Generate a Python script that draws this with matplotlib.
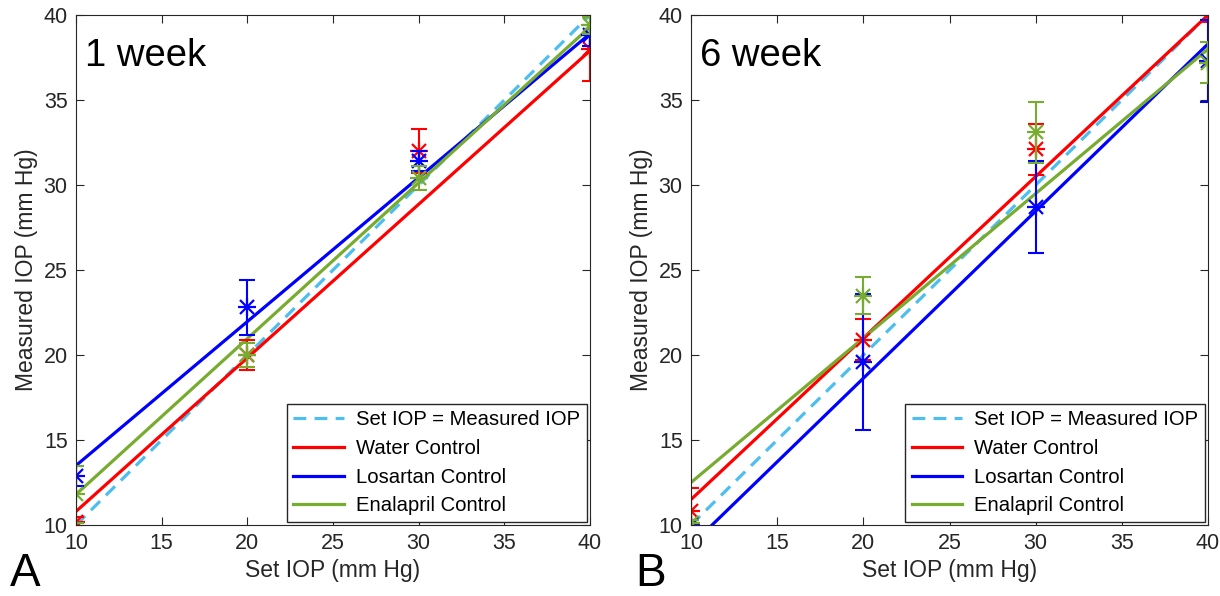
import numpy as np
from matplotlib import pyplot as plt

plt.rcParams['font.family'] = ['Liberation Sans', 'DejaVu Sans']

set_iop = [10, 20, 30, 40]
fit_x = [10, 40]
groups = ['Water Control', 'Losartan Control', 'Enalapril Control']
colors = ['#FF0000', '#0000FF', '#77AC30']

# 1 week: means, errors, fit line end values
mean_1w = {
    'Water Control': [10.2, 20.0, 32.0, 38.0],
    'Losartan Control': [12.9, 22.8, 31.4, 38.8],
    'Enalapril Control': [11.8, 20.0, 30.4, 39.4],
}
err_1w = {
    'Water Control': [0.3, 0.9, 1.3, 1.9],
    'Losartan Control': [0.6, 1.6, 0.6, 0.6],
    'Enalapril Control': [1.7, 0.7, 0.7, 0.5],
}
fit_1w = {
    'Water Control': [10.8, 37.9],
    'Losartan Control': [13.5, 38.9],
    'Enalapril Control': [11.8, 39.3],
}

# 6 week
mean_6w = {
    'Water Control': [10.8, 20.9, 32.1, 41.0],
    'Losartan Control': [10.0, 19.6, 28.7, 37.3],
    'Enalapril Control': [10.1, 23.5, 33.1, 37.2],
}
err_6w = {
    'Water Control': [1.4, 1.2, 1.5, 1.4],
    'Losartan Control': [0.3, 4.0, 2.7, 2.4],
    'Enalapril Control': [0.2, 1.1, 1.8, 1.2],
}
fit_6w = {
    'Water Control': [11.5, 40.0],
    'Losartan Control': [8.8, 38.3],
    'Enalapril Control': [12.5, 38.0],
}

fig = plt.figure(figsize=(12.2, 5.96), dpi=100)
ax_a = fig.add_axes([0.0623, 0.1191, 0.4213, 0.8557])
ax_b = fig.add_axes([0.5664, 0.1191, 0.4238, 0.8557])

panels = [(ax_a, mean_1w, err_1w, fit_1w, '1 week'),
          (ax_b, mean_6w, err_6w, fit_6w, '6 week')]

for ax, means, errs, fits, title in panels:
    ax.plot(fit_x, fit_x, linestyle=(0, (4, 2.6)), color='#4DBEEE', lw=2.3,
            label='Set IOP = Measured IOP')
    for g, c in zip(groups, colors):
        ax.plot(fit_x, fits[g], color=c, lw=2.3, label=g)
    for g, c in zip(groups, colors):
        ax.errorbar(set_iop, means[g], yerr=errs[g], fmt='none', ecolor=c,
                    capsize=6, capthick=1.5, elinewidth=1.5)
        # MATLAB-style asterisk = plus + cross
        ax.plot(set_iop, means[g], linestyle='none', marker='+',
                color=c, ms=13, mew=1.6)
        ax.plot(set_iop, means[g], linestyle='none', marker='x',
                color=c, ms=10, mew=1.6)
    ax.set_xlim(10, 40)
    ax.set_ylim(10, 40)
    ax.set_xticks(range(10, 41, 5))
    ax.set_yticks(range(10, 41, 5))
    ax.tick_params(direction='in', top=True, right=True, labelsize=15.5,
                   length=6, pad=6, color='#262626', labelcolor='#262626')
    for s in ax.spines.values():
        s.set_color('#262626')
    ax.set_xlabel('Set IOP (mm Hg)', fontsize=16.5, color='#262626',
                  labelpad=3)
    ax.set_ylabel('Measured IOP (mm Hg)', fontsize=16.5, color='#262626',
                  labelpad=4)
    ax.text(0.018, 0.955, title, transform=ax.transAxes, fontsize=27.5,
            va='top', ha='left')
    leg = ax.legend(loc='lower right', fontsize=14.6, fancybox=False,
                    edgecolor='#262626', framealpha=1, borderaxespad=0.15,
                    handlelength=2.5, handletextpad=0.6, labelspacing=0.48,
                    borderpad=0.32)
    leg.get_frame().set_linewidth(1)

fig.text(0.008, 0.0, 'A', fontsize=33, va='bottom', ha='left')
fig.text(0.521, 0.0, 'B', fontsize=33, va='bottom', ha='left')

plt.savefig('out.png', dpi=100)
